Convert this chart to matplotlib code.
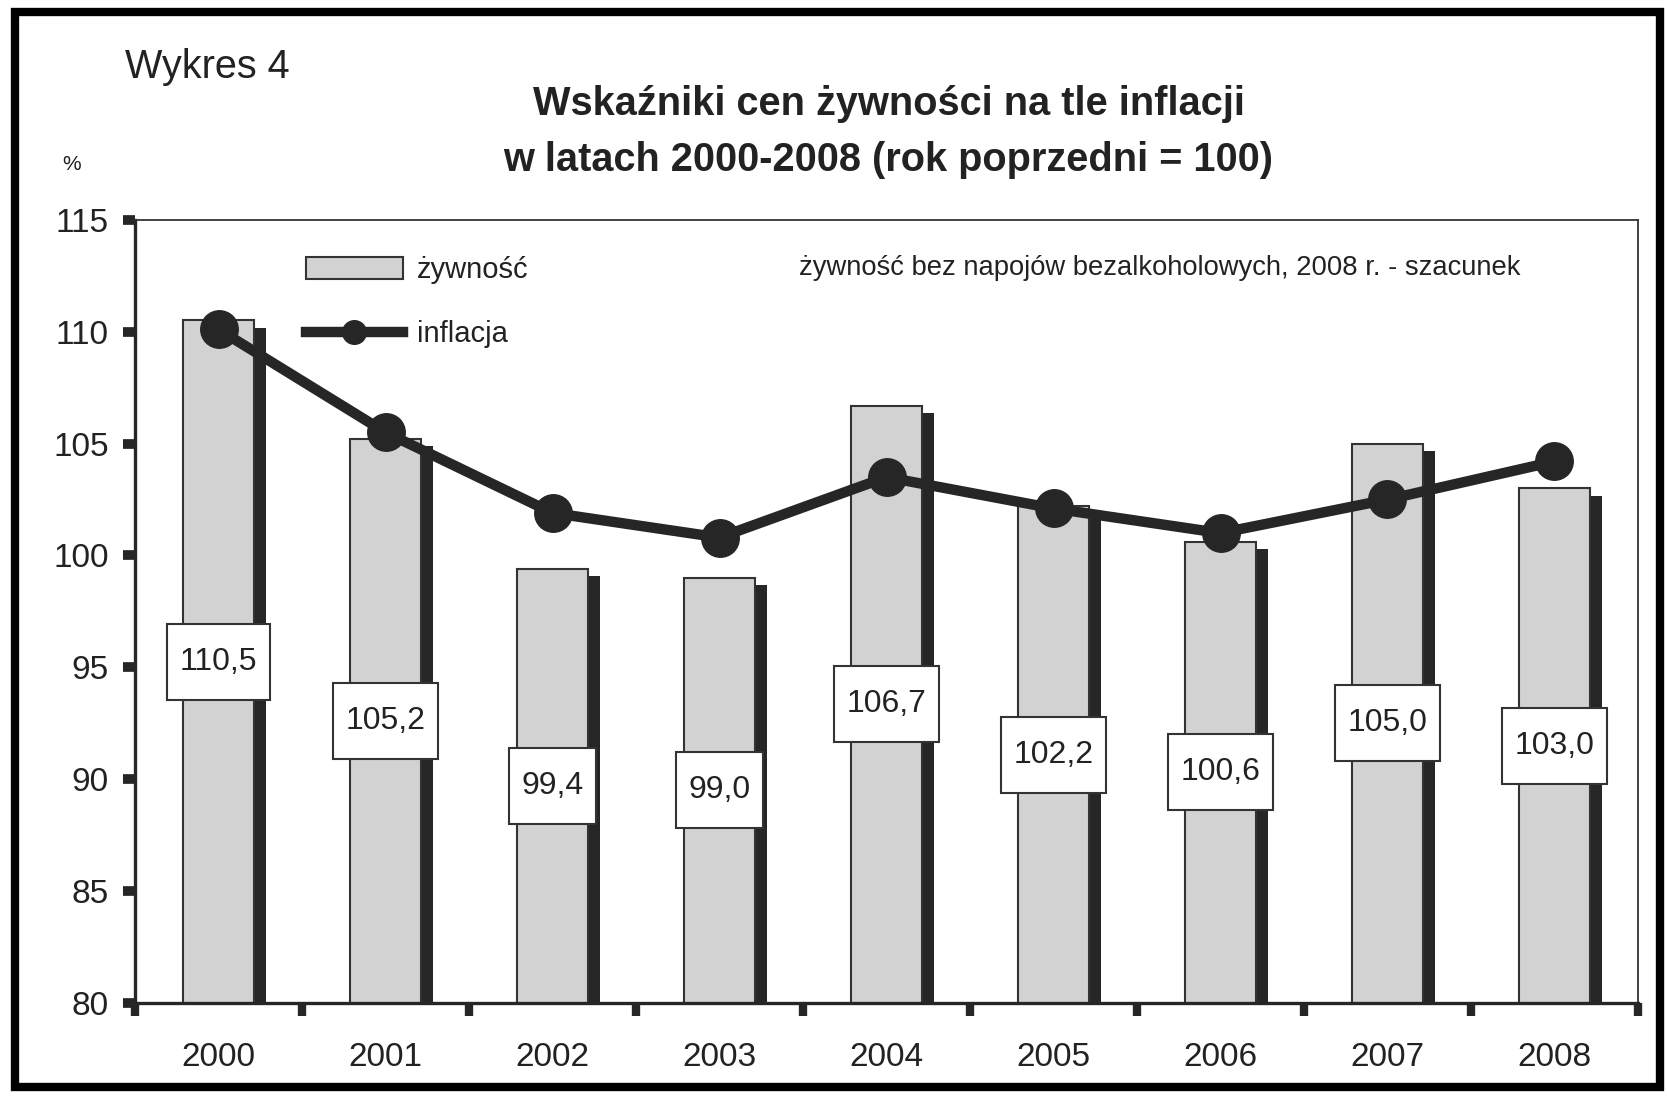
import matplotlib
matplotlib.use("Agg")
import matplotlib.pyplot as plt
from matplotlib.patches import Rectangle
from matplotlib.lines import Line2D
from matplotlib.path import Path
import numpy as np

# dane
lata = ["2000", "2001", "2002", "2003", "2004", "2005", "2006", "2007", "2008"]
zywnosc = [110.5, 105.2, 99.4, 99.0, 106.7, 102.2, 100.6, 105.0, 103.0]
inflacja = [110.1, 105.5, 101.9, 100.8, 103.5, 102.1, 101.0, 102.5, 104.2]
etykiety = [f"{v:.1f}".replace(".", ",") for v in zywnosc]
y_ticks = [80, 85, 90, 95, 100, 105, 110, 115]

plt.rcParams["font.family"] = ["Liberation Sans", "DejaVu Sans"]
TXT = "#222222"
SZARY = "#d2d2d2"
CIEMNY = "#262626"


def ramka(x0, y0, width, height, mutation_size):
    # prostokat z wiekszym marginesem w pionie niz w poziomie
    px = 0.4 * mutation_size
    py = 0.72 * mutation_size
    x0, y0 = x0 - px, y0 - py
    x1, y1 = x0 + width + 2 * px, y0 + height + 2 * py
    return Path([(x0, y0), (x1, y0), (x1, y1), (x0, y1), (x0, y0)], closed=True)


fig = plt.figure(figsize=(16.67, 10.99), dpi=100)
ax = fig.add_axes([0.081, 0.0874, 0.9016, 0.7126])

x = np.arange(len(lata))
szer = 0.43
zyw = np.array(zywnosc)

# cien slupkow
ax.bar(x + 0.07, zyw - 0.33, width=szer, color=CIEMNY, zorder=1)
ax.bar(x, zyw, width=szer, color=SZARY, edgecolor="#333333", linewidth=1.5, zorder=2)

ax.plot(x, inflacja, color=CIEMNY, linewidth=7.5, marker="o", markersize=27,
        zorder=3, solid_joinstyle="round")

for xi, v, lab in zip(x, zywnosc, etykiety):
    ax.text(xi, (80 + v) / 2, lab, ha="center", va="center", fontsize=23,
            color=TXT, zorder=5,
            bbox=dict(boxstyle=ramka, facecolor="white", edgecolor="#333333",
                      linewidth=1.5))

ax.set_xlim(-0.5, len(lata) - 0.5)
ax.set_ylim(80, 115)
ax.set_yticks(y_ticks)
ax.set_yticklabels([str(t) for t in y_ticks])
ax.set_xticks(x)
ax.set_xticklabels(lata)
ax.set_xticks(np.arange(len(lata) + 1) - 0.5, minor=True)
ax.tick_params(axis="x", which="major", length=0, pad=28, labelsize=24, labelcolor=TXT)
ax.tick_params(axis="x", which="minor", length=9, width=6, color=CIEMNY)
ax.tick_params(axis="y", which="major", length=9, width=7, pad=10, labelsize=24,
               labelcolor=TXT, color=CIEMNY)

for s in ["left", "bottom"]:
    ax.spines[s].set_linewidth(2.4)
    ax.spines[s].set_color(CIEMNY)
for s in ["top", "right"]:
    ax.spines[s].set_linewidth(1.3)
    ax.spines[s].set_color("#333333")

# legenda
uchwyty = [
    Rectangle((0, 0), 1, 1, facecolor=SZARY, edgecolor="#333333", linewidth=1.5),
    Line2D([], [], color=CIEMNY, linewidth=7.5, marker="o", markersize=17),
]
ax.legend(uchwyty, ["żywność", "inflacja"], loc="upper left",
          bbox_to_anchor=(0.114, 0.954), frameon=False, fontsize=21,
          handlelength=3.3, handleheight=0.8, handletextpad=0.5,
          labelspacing=1.25, borderpad=0, borderaxespad=0, labelcolor=TXT)

ax.text(0.682, 0.939, "żywność bez napojów bezalkoholowych, 2008 r. - szacunek",
        transform=ax.transAxes, ha="center", va="center", fontsize=19.7, color=TXT)

fig.text(0.075, 0.939, "Wykres 4", ha="left", va="center", fontsize=28.5, color=TXT)
fig.text(0.533, 0.905, "Wskaźniki cen żywności na tle inflacji", ha="center",
         va="center", fontsize=28.6, fontweight="bold", color=TXT)
fig.text(0.533, 0.854, "w latach 2000-2008 (rok poprzedni = 100)", ha="center",
         va="center", fontsize=28.6, fontweight="bold", color=TXT)
fig.text(0.043, 0.85, "%", ha="center", va="center", fontsize=15, color=TXT)

# ramka wokol wykresu
fig.patches.append(Rectangle((0.009, 0.011), 0.987, 0.978, transform=fig.transFigure,
                             fill=False, edgecolor="black", linewidth=6))

fig.savefig("out.png", dpi=100)
